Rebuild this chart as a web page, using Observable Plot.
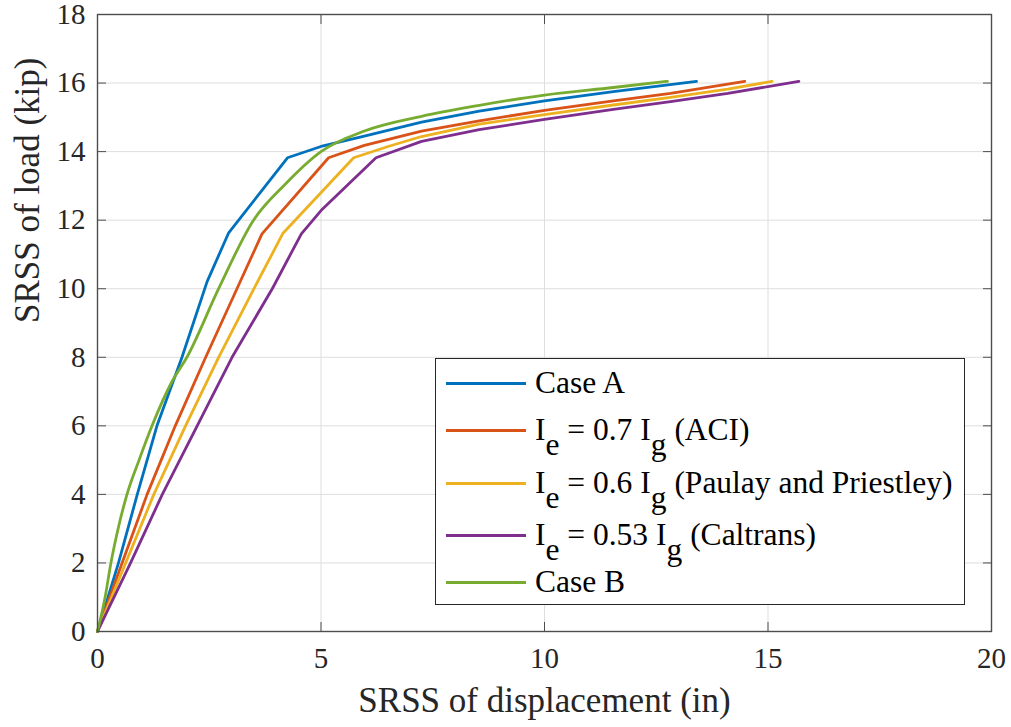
<!DOCTYPE html>
<html>
<head>
<meta charset="utf-8">
<script src="https://cdn.jsdelivr.net/npm/d3@7"></script>
<script src="https://cdn.jsdelivr.net/npm/@observablehq/plot@0.6"></script>
<style>
  body { margin: 0; background: #fff; }
  #wrap { position: relative; width: 1011px; height: 727px; }
  .legend { position: absolute; left: 435px; top: 358px; width: 530px; height: 247px;
    border: 1.3px solid #262626; background: #fff; box-sizing: border-box;
    font-family: "Liberation Serif", "Times New Roman", Times, "DejaVu Serif", serif; font-size: 31.5px; color: #000; }
  .row { position: absolute; left: 0; height: 0; }
  .sw { position: absolute; left: 10px; width: 80px; height: 3px; top: -1.5px; }
  .tx { position: absolute; left: 99px; top: -16px; white-space: nowrap; line-height: 1; }
  .sub { position: relative; top: 15px; }
</style>
</head>
<body>
<div id="wrap"></div>
<script>
// ---- data ----
const seriesNames = ["Case A", "Ie = 0.7 Ig (ACI)", "Ie = 0.6 Ig (Paulay and Priestley)", "Ie = 0.53 Ig (Caltrans)", "Case B"];
const seriesColors = ["#0072BD", "#D95319", "#EDB120", "#7E2F8E", "#77AC30"];

const caseA_x = [0, 0.47, 0.89, 1.33, 1.89, 2.45, 2.93, 4.25, 5.0, 5.97, 7.25, 8.54, 10.0, 11.54, 13.4];
const caseA_y = [0, 2, 4, 6, 8, 10.2, 11.62, 13.82, 14.15, 14.45, 14.86, 15.18, 15.48, 15.75, 16.05];

const aci_x = [0, 0.55, 1.11, 1.74, 2.42, 3.12, 3.68, 5.17, 5.97, 7.25, 8.54, 10.0, 11.54, 12.82, 14.48];
const aci_y = [0, 2, 4, 6, 8, 10, 11.6, 13.82, 14.18, 14.6, 14.9, 15.2, 15.48, 15.7, 16.05];

const paulay_x = [0, 0.63, 1.26, 1.97, 2.71, 3.5, 4.15, 5.73, 6.5, 7.25, 8.54, 10.0, 11.54, 12.82, 14.1, 15.09];
const paulay_y = [0, 2, 4, 6, 8, 10, 11.62, 13.82, 14.15, 14.44, 14.8, 15.08, 15.36, 15.58, 15.82, 16.05];

const caltrans_x = [0, 0.74, 1.45, 2.23, 3.01, 3.91, 4.56, 5.0, 6.23, 7.25, 8.54, 10.0, 11.54, 12.82, 14.1, 15.69];
const caltrans_y = [0, 2, 4, 6, 8, 10, 11.6, 12.28, 13.82, 14.3, 14.64, 14.94, 15.23, 15.46, 15.7, 16.05];

const caseB_x = [0, 0.17, 0.30, 0.47, 0.66, 0.93, 1.22, 1.67, 2.0, 2.71, 3.49, 4.2, 5.0, 5.97, 7.25, 8.54, 10.0, 11.54, 12.75];
const caseB_y = [0, 1.0, 2, 3.05, 4, 5, 6, 7.3, 8, 10, 12, 13.05, 14.0, 14.6, 15.03, 15.35, 15.65, 15.87, 16.05];

const xTicks = [0, 5, 10, 15, 20];
const yTicks = [0, 2, 4, 6, 8, 10, 12, 14, 16, 18];
const xLabel = "SRSS of displacement (in)";
const yLabel = "SRSS of load (kip)";

// ---- build ----
const seriesXY = [[caseA_x, caseA_y], [aci_x, aci_y], [paulay_x, paulay_y], [caltrans_x, caltrans_y], [caseB_x, caseB_y]];
const rows = seriesXY.map(([xs, ys], i) => xs.map((x, j) => ({series: seriesNames[i], x, y: ys[j]})));

const axisColor = "#4d4d4d";
const serif = "'Liberation Serif', 'Times New Roman', Times, 'DejaVu Serif', serif";
const lineMarks = rows.map((r, i) => Plot.line(r, {
  x: "x", y: "y", stroke: seriesColors[i], strokeWidth: 2.8,
  curve: i === 4 ? "monotone-x" : "linear", strokeLinejoin: "round"
}));

const chart = Plot.plot({
  width: 1011, height: 727,
  marginLeft: 97, marginRight: 20, marginTop: 14, marginBottom: 96,
  style: { fontFamily: serif, fontSize: "29px", color: "#262626", background: "#fff", overflow: "visible" },
  x: { domain: [0, 20] },
  y: { domain: [0, 18] },
  marks: [
    Plot.gridX(xTicks, { stroke: "#dedede", strokeOpacity: 1, strokeWidth: 1 }),
    Plot.gridY(yTicks, { stroke: "#dedede", strokeOpacity: 1, strokeWidth: 1 }),
    ...lineMarks,
    Plot.frame({ stroke: axisColor, strokeWidth: 1.4 }),
    Plot.axisX(xTicks, { anchor: "bottom", tickSize: -9, stroke: axisColor, tickPadding: 25, label: null, fill: "#262626", fontFamily: serif }),
    Plot.axisX(xTicks, { anchor: "top", tickSize: -9, stroke: axisColor, tickFormat: () => "", label: null }),
    Plot.axisY(yTicks, { anchor: "left", tickSize: -9, stroke: axisColor, tickPadding: 21, label: null, fill: "#262626", fontFamily: serif }),
    Plot.axisY(yTicks, { anchor: "right", tickSize: -9, stroke: axisColor, tickFormat: () => "", label: null }),
    Plot.text([xLabel], { text: d => d, frameAnchor: "bottom", dy: 80, fontSize: 35, fill: "#262626", fontFamily: serif }),
    Plot.text([yLabel], { text: d => d, frameAnchor: "left", dx: -70, rotate: -90, fontSize: 35, fill: "#262626", fontFamily: serif })
  ]
});

const wrap = document.getElementById("wrap");
wrap.appendChild(chart);

// ---- legend (HTML overlay) ----
const legendLabels = [
  "Case A",
  "I<span class='sub'>e</span> = 0.7 I<span class='sub'>g</span> (ACI)",
  "I<span class='sub'>e</span> = 0.6 I<span class='sub'>g</span> (Paulay and Priestley)",
  "I<span class='sub'>e</span> = 0.53 I<span class='sub'>g</span> (Caltrans)",
  "Case B"
];
const rowTops = [24, 71, 124, 176, 223];
const leg = document.createElement("div");
leg.className = "legend";
legendLabels.forEach((lab, i) => {
  const r = document.createElement("div");
  r.className = "row";
  r.style.top = rowTops[i] + "px";
  r.innerHTML = `<div class="sw" style="background:${seriesColors[i]}"></div><div class="tx">${lab}</div>`;
  leg.appendChild(r);
});
wrap.appendChild(leg);
</script>
</body>
</html>
